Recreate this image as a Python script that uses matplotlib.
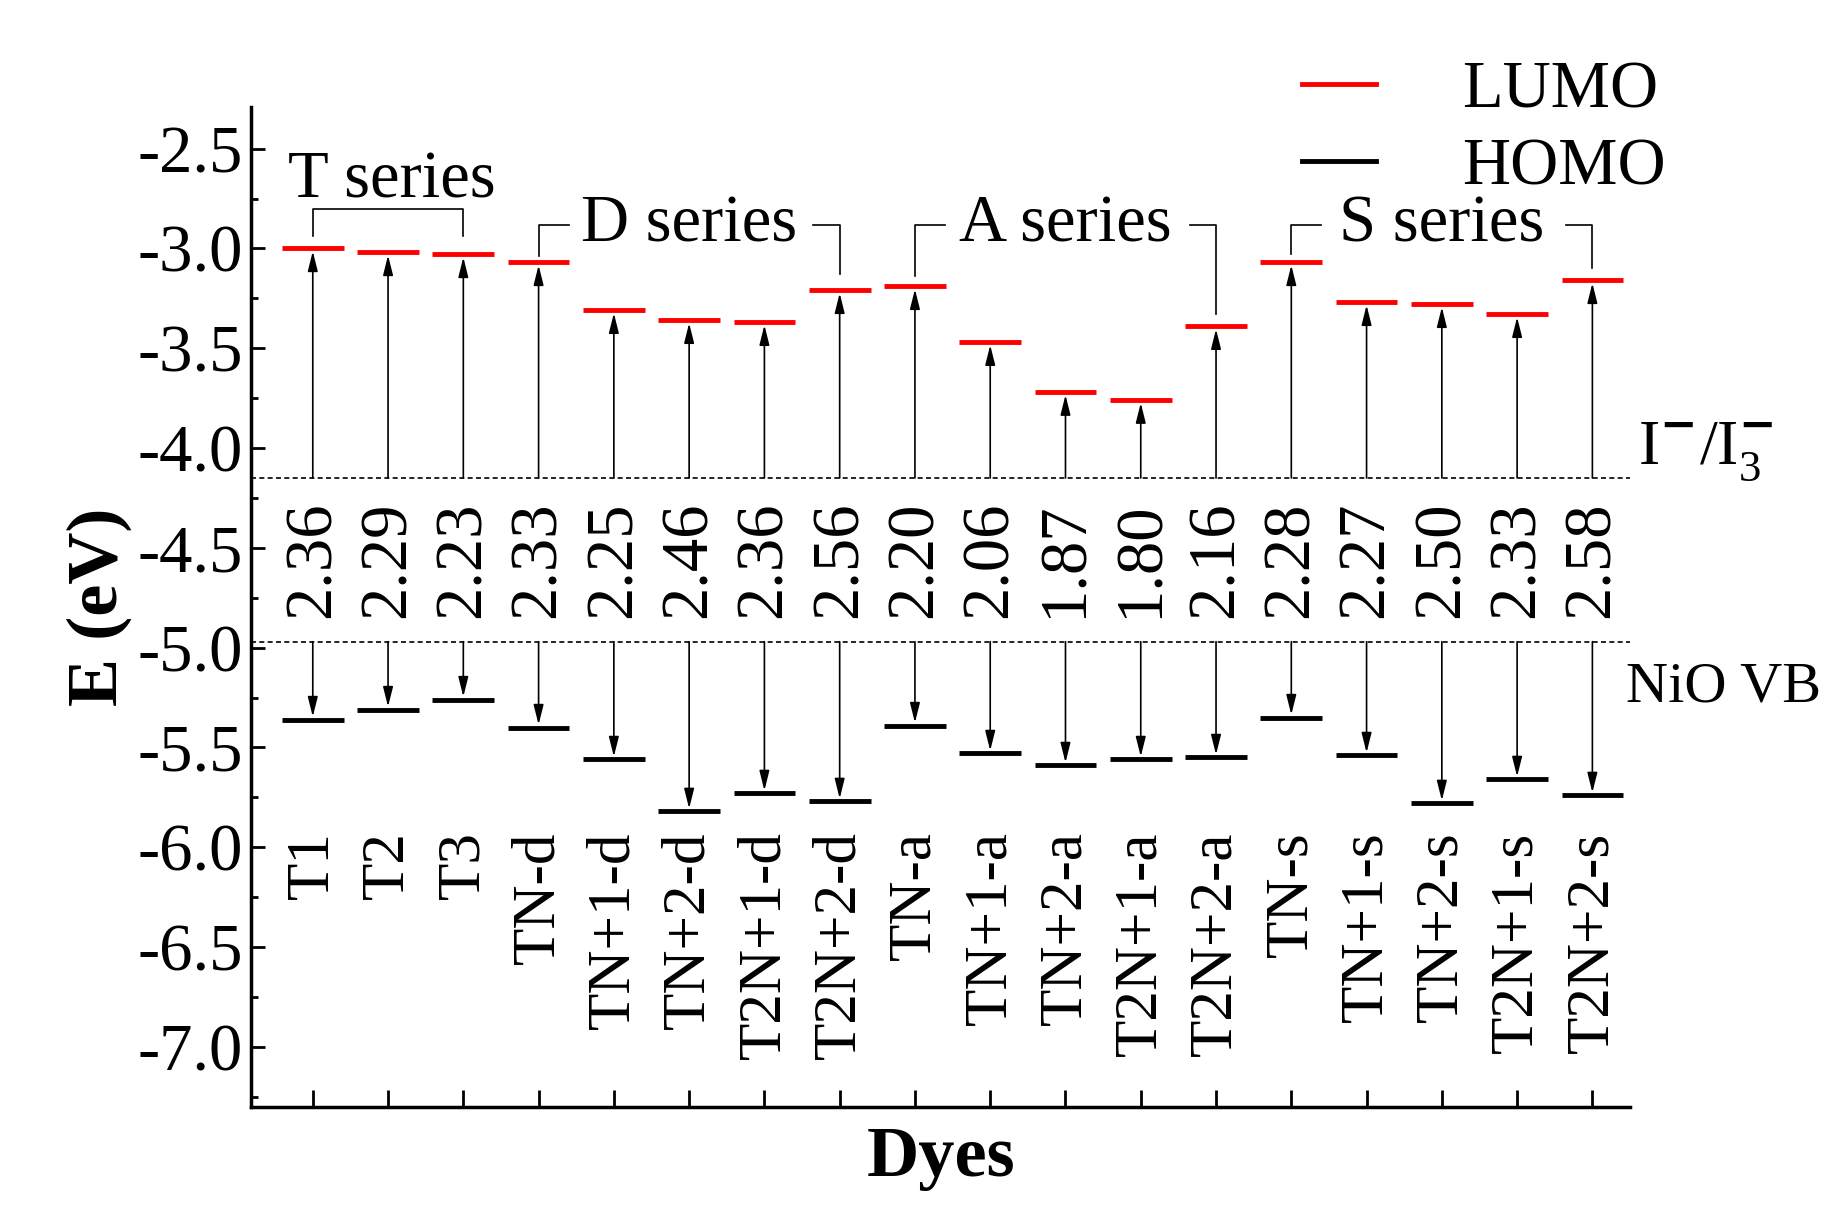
import matplotlib
matplotlib.use("Agg")
import matplotlib.pyplot as plt

plt.rcParams['font.family'] = ['Liberation Serif', 'DejaVu Serif']
plt.rcParams['mathtext.fontset'] = 'custom'
plt.rcParams['mathtext.rm'] = 'Liberation Serif'
plt.rcParams['axes.unicode_minus'] = False

dyes = ["T1", "T2", "T3", "TN-d", "TN+1-d", "TN+2-d", "T2N+1-d", "T2N+2-d",
        "TN-a", "TN+1-a", "TN+2-a", "T2N+1-a", "T2N+2-a",
        "TN-s", "TN+1-s", "TN+2-s", "T2N+1-s", "T2N+2-s"]
lumo = [-3.00, -3.02, -3.03, -3.07, -3.31, -3.36, -3.37, -3.21,
        -3.19, -3.47, -3.72, -3.76, -3.39,
        -3.07, -3.27, -3.28, -3.33, -3.16]
homo = [-5.36, -5.31, -5.26, -5.40, -5.56, -5.82, -5.73, -5.77,
        -5.39, -5.53, -5.59, -5.56, -5.55,
        -5.35, -5.54, -5.78, -5.66, -5.74]
gaps = ["2.36", "2.29", "2.23", "2.33", "2.25", "2.46", "2.36", "2.56",
        "2.20", "2.06", "1.87", "1.80", "2.16",
        "2.28", "2.27", "2.50", "2.33", "2.58"]
redox = -4.15
nio_vb = -4.97

fig = plt.figure(figsize=(18.46, 12.27), dpi=100)
ax = fig.add_axes([0.136, 0.098, 0.747, 0.815])
x = list(range(1, len(dyes) + 1))
hw = 0.41
ax.hlines(lumo, [i - hw for i in x], [i + hw for i in x], colors='red', lw=3.5, zorder=3)
ax.hlines(homo, [i - hw for i in x], [i + hw for i in x], colors='black', lw=3.5, zorder=3)
ax.axhline(redox, color='black', ls=(0, (3, 2)), lw=1.2)
ax.axhline(nio_vb, color='black', ls=(0, (3, 2)), lw=1.2)

ap = dict(arrowstyle='-|>,head_length=1.2,head_width=0.3', color='black', lw=1.2, shrinkA=0, shrinkB=2)
for xi, lu, ho, g, d in zip(x, lumo, homo, gaps, dyes):
    ax.annotate('', xy=(xi, lu), xytext=(xi, redox), arrowprops=ap)
    ax.annotate('', xy=(xi, ho), xytext=(xi, nio_vb), arrowprops=ap)
    ax.text(xi, (redox + nio_vb) / 2, g, rotation=90, ha='center', va='center', fontsize=48)
    ax.text(xi, -5.92, d, rotation=90, ha='center', va='top', fontsize=44)

bk = dict(color='black', lw=1.2)
ax.plot([1, 1, 3, 3], [-2.94, -2.80, -2.80, -2.94], **bk)
ax.text(2.05, -2.66, "T series", ha='center', va='center', fontsize=48)
ax.plot([4, 4, 4.4], [-3.04, -2.88, -2.88], **bk)
ax.plot([7.65, 8, 8], [-2.88, -2.88, -3.13], **bk)
ax.text(6.0, -2.88, "D series", ha='center', va='center', fontsize=48)
ax.plot([9, 9, 9.4], [-3.14, -2.88, -2.88], **bk)
ax.plot([12.65, 13, 13], [-2.88, -2.88, -3.33], **bk)
ax.text(11.0, -2.88, "A series", ha='center', va='center', fontsize=48)
ax.plot([14, 14, 14.4], [-3.03, -2.88, -2.88], **bk)
ax.plot([17.65, 18, 18], [-2.88, -2.88, -3.10], **bk)
ax.text(16.0, -2.88, "S series", ha='center', va='center', fontsize=48)

ax.text(18.6, -4.02, r"I$^{\mathbf{-}}$/I$_3^{\mathbf{-}}$", ha='left', va='center', fontsize=46)
ax.text(18.45, -5.2, "NiO VB", ha='left', va='center', fontsize=42)

ax.set_xlim(0.18, 18.5)
ax.set_ylim(-7.3, -2.29)
ax.set_xticks(x)
ax.set_xticklabels([])
ax.set_yticks([-7.0, -6.5, -6.0, -5.5, -5.0, -4.5, -4.0, -3.5, -3.0, -2.5])
ax.set_yticks([-7.25, -6.75, -6.25, -5.75, -5.25, -4.75, -4.25, -3.75, -3.25, -2.75], minor=True)
ax.tick_params(axis='y', labelsize=48, direction='in', length=10, width=2, which='major', pad=6)
ax.tick_params(axis='y', direction='in', length=5, width=2, which='minor')
ax.tick_params(axis='x', direction='in', length=12, width=2)
for s in ['top', 'right']:
    ax.spines[s].set_visible(False)
for s in ['left', 'bottom']:
    ax.spines[s].set_linewidth(2.5)
ax.set_ylabel("E (eV)", fontsize=52, fontweight='bold', labelpad=4)
ax.set_xlabel("Dyes", fontsize=52, fontweight='bold', labelpad=10)

from matplotlib.lines import Line2D
handles = [Line2D([], [], color='red', lw=3.5), Line2D([], [], color='black', lw=3.5)]
fig.legend(handles, ["LUMO", "HOMO"], loc='upper right', bbox_to_anchor=(0.935, 1.0),
           frameon=False, fontsize=48, handlelength=1.1, handletextpad=1.3, labelspacing=0.25)

fig.savefig("out.png", dpi=100)
